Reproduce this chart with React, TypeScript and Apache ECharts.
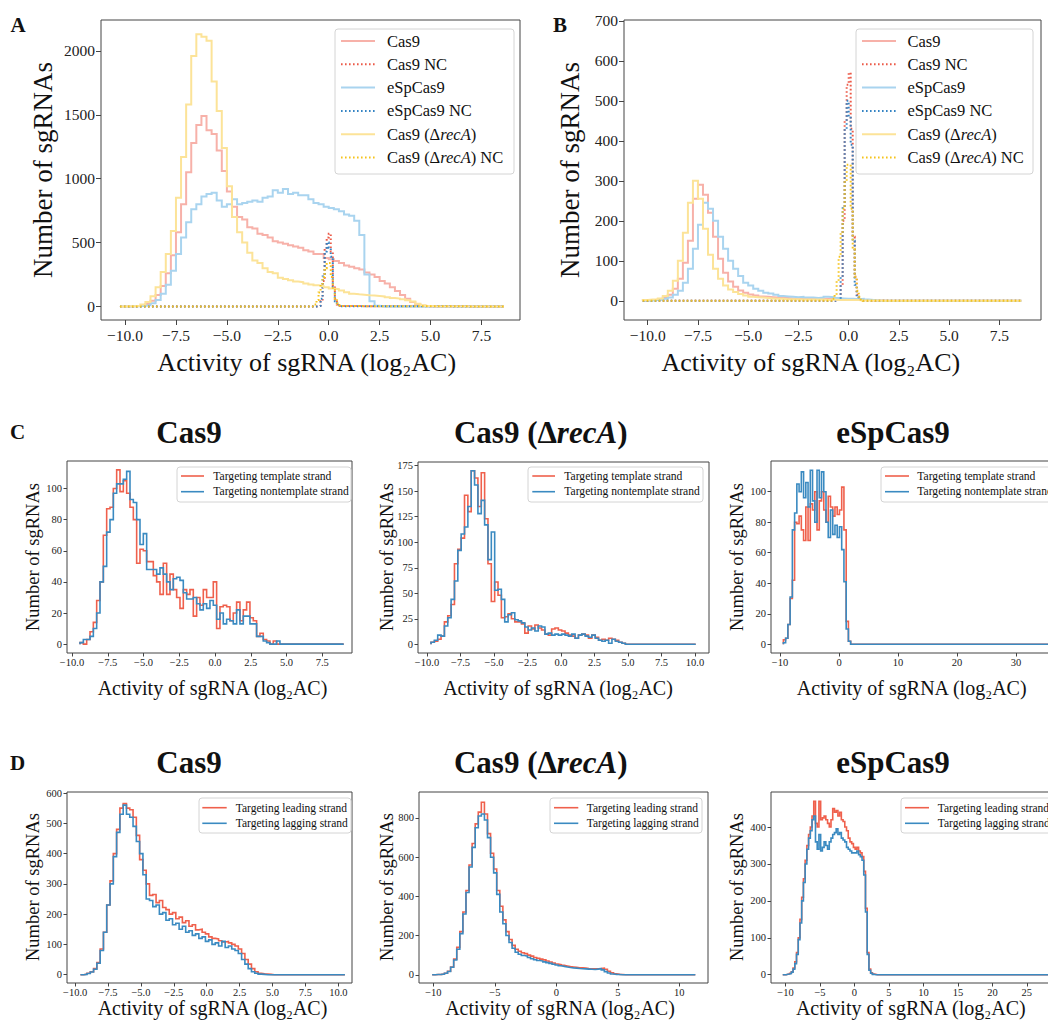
import React, { useEffect, useRef } from 'react';
import * as echarts from 'echarts';

const FONT = '"Liberation Serif", "Times New Roman", Times, serif';

// ---------- Panel A (bins of 0.25 from -10.25) ----------
const AB_START = -10.25;
const AB_W = 0.25;
const AB_LO = -10.25;
const AB_HI = 8.6;
const A_cas9 = [0, 0, 1, 3, 8, 20, 45, 90, 160, 260, 400, 580, 800, 1050, 1280, 1420, 1490, 1380, 1350, 1220, 1060, 900, 780, 700, 680, 620, 610, 570, 560, 540, 510, 500, 490, 480, 470, 460, 440, 430, 410, 410, 380, 370, 355, 340, 320, 310, 300, 290, 265, 250, 230, 200, 180, 150, 120, 90, 60, 35, 15, 5, 2, 0];
const A_esp = [0, 0, 1, 2, 5, 10, 25, 50, 100, 170, 280, 410, 540, 660, 760, 800, 860, 880, 890, 830, 780, 800, 840, 800, 810, 820, 830, 820, 850, 860, 910, 890, 920, 880, 890, 870, 870, 840, 810, 800, 780, 770, 760, 745, 720, 710, 670, 560, 250, 40, 5, 0];
const A_recA = [0, 1, 2, 5, 15, 35, 80, 150, 270, 410, 590, 850, 1170, 1580, 1960, 2130, 2110, 2080, 1760, 1530, 1240, 940, 700, 580, 500, 420, 360, 340, 300, 270, 260, 225, 215, 205, 195, 190, 180, 172, 165, 160, 150, 140, 135, 125, 112, 100, 95, 92, 88, 86, 82, 78, 72, 66, 62, 56, 48, 38, 22, 10, 4, 1];

// ---------- Panel B ----------
const B_cas9 = [1, 2, 2, 4, 8, 15, 30, 55, 95, 150, 255, 290, 265, 220, 160, 105, 70, 48, 35, 26, 20, 16, 13, 11, 10, 9, 8, 7, 7, 6, 6, 6, 5, 5, 5, 5, 5, 5, 4, 4, 3, 3, 3, 2, 2, 1, 1, 1, 0];
const B_esp = [1, 1, 2, 3, 5, 8, 15, 25, 45, 80, 130, 190, 245, 230, 200, 160, 130, 100, 80, 62, 45, 38, 30, 25, 20, 18, 15, 12, 11, 10, 9, 10, 8, 8, 7, 8, 10, 9, 7, 6, 5, 5, 4, 5, 3, 2, 1, 0];
const B_recA = [2, 3, 4, 6, 12, 25, 50, 100, 170, 245, 300, 255, 180, 115, 80, 55, 38, 28, 22, 17, 13, 10, 9, 8, 7, 6, 5, 5, 4, 4, 4, 3, 3, 3, 3, 3, 2, 3, 2, 2, 2, 2, 2, 1, 1, 1, 1, 0];

// ---------- Negative controls (bins of 0.1) ----------
const NC_W = 0.1;
const NC_cas9_start = -0.6;
const NC_cas9 = [0, 5, 40, 200, 450, 540, 570, 430, 160, 60, 15, 3];
const NC_esp_start = -0.6;
const NC_esp = [0, 5, 60, 235, 430, 500, 460, 390, 150, 40, 10, 2];
const NC_recA_start = -0.8;
const NC_recA = [5, 15, 50, 110, 170, 230, 300, 340, 340, 230, 130, 60, 25, 10, 3];

// ---------- Panel C ----------
const C1_start = -9.44, C1_w = 0.233, C1_hi = 9.0;
const C1_template = [1, 0, 3, 8, 14, 28, 40, 70, 87, 88, 100, 112, 98, 105, 97, 88, 80, 52, 61, 60, 53, 53, 44, 40, 32, 52, 32, 45, 35, 30, 23, 35, 32, 35, 18, 30, 25, 35, 30, 30, 40, 10, 24, 25, 24, 15, 20, 27, 15, 22, 27, 17, 15, 5, 7, 3, 2, 0, 2, 0];
const C1_nontemplate = [1, 3, 3, 5, 10, 20, 40, 50, 72, 80, 97, 103, 103, 106, 111, 93, 91, 80, 64, 71, 48, 48, 48, 45, 49, 45, 40, 35, 42, 43, 41, 33, 29, 29, 30, 26, 22, 26, 23, 28, 25, 16, 20, 13, 16, 15, 13, 22, 13, 18, 18, 13, 13, 5, 5, 2, 1, 0, 0, 2];
const C2_start = -9.7, C2_w = 0.25, C2_hi = 10.05;
const C2_template = [2, 3, 5, 8, 22, 28, 39, 79, 93, 104, 146, 130, 170, 163, 135, 168, 123, 79, 42, 61, 48, 26, 27, 30, 25, 22, 22, 20, 11, 18, 15, 19, 16, 14, 10, 9, 15, 16, 14, 13, 11, 9, 8, 6, 9, 10, 9, 6, 9, 7, 4, 5, 4, 6, 5, 4, 2, 1, 0];
const C2_nontemplate = [2, 4, 9, 8, 18, 26, 44, 62, 92, 108, 115, 135, 170, 156, 128, 141, 117, 83, 110, 53, 54, 44, 22, 29, 31, 24, 23, 21, 17, 14, 16, 13, 18, 17, 10, 11, 9, 10, 9, 10, 9, 8, 10, 6, 9, 10, 8, 7, 9, 6, 4, 3, 4, 1, 5, 3, 2, 1, 0];
const C3_start = -9.43, C3_w = 0.38, C3_hi = 40;
const C3_template = [3, 4, 13, 30, 42, 80, 79, 84, 75, 68, 90, 68, 92, 88, 100, 75, 94, 100, 88, 80, 97, 90, 84, 90, 85, 88, 103, 75, 15, 2, 0];
const C3_nontemplate = [1, 4, 13, 31, 75, 86, 105, 100, 113, 96, 106, 90, 114, 94, 80, 114, 96, 113, 100, 80, 70, 88, 72, 78, 70, 77, 62, 41, 10, 2, 0];

// ---------- Panel D ----------
const D1_start = -9.6, D1_w = 0.25, D1_hi = 10.5;
const D1_leading = [0, 2, 5, 10, 20, 40, 85, 140, 230, 310, 400, 480, 550, 565, 550, 545, 520, 460, 380, 345, 300, 262, 265, 238, 245, 222, 215, 200, 205, 185, 190, 172, 178, 160, 165, 148, 150, 140, 135, 125, 120, 118, 112, 108, 110, 105, 100, 95, 85, 70, 50, 35, 20, 10, 5, 3, 2, 1, 0];
const D1_lagging = [0, 1, 4, 9, 18, 38, 80, 140, 230, 300, 390, 470, 530, 560, 530, 520, 490, 440, 400, 330, 250, 245, 225, 230, 200, 205, 180, 185, 165, 170, 150, 160, 140, 145, 130, 135, 120, 125, 110, 115, 100, 105, 95, 110, 90, 95, 85, 80, 70, 50, 35, 20, 10, 5, 2, 1, 0];
const D2_start = -10.1, D2_w = 0.25, D2_hi = 11.3;
const D2_leading = [0, 1, 2, 4, 8, 18, 40, 80, 140, 220, 320, 430, 560, 670, 770, 830, 880, 820, 720, 620, 540, 430, 350, 280, 220, 180, 150, 130, 120, 112, 108, 100, 95, 88, 84, 80, 76, 70, 65, 60, 55, 52, 48, 45, 42, 40, 38, 36, 35, 34, 32, 31, 30, 30, 32, 34, 28, 18, 10, 5, 2, 1, 0];
const D2_lagging = [0, 1, 2, 4, 8, 17, 38, 75, 130, 210, 310, 420, 550, 650, 750, 810, 820, 790, 700, 600, 520, 410, 320, 260, 200, 165, 135, 115, 105, 98, 95, 88, 82, 77, 73, 70, 66, 62, 58, 54, 50, 46, 43, 40, 37, 35, 34, 32, 31, 30, 29, 28, 27, 29, 31, 25, 16, 9, 4, 2, 1, 0];
const D3_start = -10.4, D3_w = 0.25, D3_hi = 33;
const D3_leading = [0, 0, 1, 2, 4, 8, 18, 35, 60, 100, 150, 210, 260, 310, 350, 380, 400, 430, 470, 410, 400, 470, 420, 425, 430, 420, 410, 400, 420, 450, 440, 445, 430, 440, 420, 415, 400, 390, 370, 360, 355, 345, 340, 345, 335, 330, 320, 280, 180, 60, 15, 5, 2, 1, 0];
const D3_lagging = [0, 0, 1, 2, 3, 7, 15, 30, 55, 95, 140, 200, 250, 300, 340, 370, 390, 420, 430, 360, 340, 380, 335, 345, 360, 350, 340, 360, 370, 380, 385, 395, 380, 385, 370, 365, 360, 345, 340, 335, 330, 330, 330, 335, 325, 320, 310, 270, 170, 55, 12, 4, 1, 0];

// ---------- Tick labels ----------
const TICKS_AB_X = [-10, -7.5, -5, -2.5, 0, 2.5, 5, 7.5];
const TICKS_A_Y = [0, 500, 1000, 1500, 2000];
const TICKS_B_Y = [0, 100, 200, 300, 400, 500, 600, 700];
const TICKS_C1_X = [-10, -7.5, -5, -2.5, 0, 2.5, 5, 7.5];
const TICKS_C2_X = [-10, -7.5, -5, -2.5, 0, 2.5, 5, 7.5, 10];
const TICKS_C3_X = [-10, 0, 10, 20, 30];
const TICKS_C1_Y = [0, 20, 40, 60, 80, 100];
const TICKS_C2_Y = [0, 25, 50, 75, 100, 125, 150, 175];
const TICKS_D1_X = [-10, -7.5, -5, -2.5, 0, 2.5, 5, 7.5, 10];
const TICKS_D2_X = [-10, -5, 0, 5, 10];
const TICKS_D3_X = [-10, -5, 0, 5, 10, 15, 20, 25];
const TICKS_D1_Y = [0, 100, 200, 300, 400, 500, 600];
const TICKS_D2_Y = [0, 200, 400, 600, 800];
const TICKS_D3_Y = [0, 100, 200, 300, 400];

// colours
const LIGHT_RED = '#F7B1A9';
const NC_RED = '#EC5A48';
const LIGHT_BLUE = '#A9D4EF';
const NC_BLUE = '#3584C4';
const LIGHT_YELLOW = '#FCE398';
const NC_GOLD = '#F5C31C';
const RED = '#EF604C';
const BLUE = '#3A8AC1';
const FRAME = '#444';
const TEXT = '#111';

function stepPoints(start: number, w: number, vals: number[], lo: number, hi: number) {
  const pts: number[][] = [];
  if (lo < start) pts.push([lo, 0]);
  pts.push([start, 0]);
  vals.forEach((v, i) => {
    pts.push([start + i * w, v]);
    pts.push([start + (i + 1) * w, v]);
  });
  const end = start + vals.length * w;
  pts.push([end, 0]);
  if (hi > end) pts.push([hi, 0]);
  return pts;
}

function series(gi: number, start: number, w: number, vals: number[], lo: number, hi: number, color: string, width: number, dotted = false) {
  return {
    type: 'line',
    xAxisIndex: gi,
    yAxisIndex: gi,
    data: stepPoints(start, w, vals, lo, hi),
    symbol: 'none',
    showSymbol: false,
    silent: true,
    clip: true,
    lineStyle: { color, width, type: dotted ? [1.6, 2.4] : 'solid', cap: 'butt', join: 'miter' },
    z: 3,
  };
}

const fmt = (dec: number) => (v: number) => {
  const s = Math.abs(v).toFixed(dec);
  return v < 0 ? '\u2212' + s : s;
};

function axis(gi: number, min: number, max: number, ticks: number[], dec: number, fontSize: number, tickLen: number, margin: number) {
  return {
    type: 'value',
    gridIndex: gi,
    min,
    max,
    axisLine: { show: false, onZero: false },
    axisTick: { show: true, customValues: ticks, length: tickLen, lineStyle: { color: FRAME, width: 1 } },
    axisLabel: { show: true, customValues: ticks, formatter: fmt(dec), fontSize, fontFamily: FONT, color: '#222', margin },
    splitLine: { show: false },
  };
}

const GRIDS = [
  { left: 101, top: 20, width: 419, height: 300 },
  { left: 624, top: 20, width: 417, height: 300 },
  { left: 67, top: 461, width: 285, height: 192 },
  { left: 418, top: 462, width: 291, height: 191 },
  { left: 771, top: 461, width: 320, height: 192 },
  { left: 67, top: 792, width: 285, height: 191 },
  { left: 419, top: 792, width: 289, height: 191 },
  { left: 771, top: 792, width: 320, height: 191 },
];

function txt(x: number, y: number, text: string, fontSize: number, opts: any = {}) {
  return {
    type: 'text',
    x,
    y,
    z: 60,
    rotation: opts.rotation || 0,
    silent: true,
    style: {
      text,
      fontSize,
      fontFamily: FONT,
      fontWeight: opts.bold ? 'bold' : 'normal',
      fill: TEXT,
      align: opts.align || 'center',
      verticalAlign: 'middle',
      rich: opts.rich,
    },
  };
}

function richRecA(fontSize: number, bold: boolean) {
  const base = { fontSize, fontFamily: FONT, fontWeight: bold ? 'bold' : 'normal', fill: TEXT };
  return { n: base, i: { ...base, fontStyle: 'italic' } };
}

type LegRow = { text: string; color: string; dotted?: boolean; rich?: boolean };

function legend(x: number, y: number, w: number, h: number, rows: LegRow[], y0: number, dy: number, lx1: number, lx2: number, tx: number, fontSize: number, lw: number) {
  const els: any[] = [
    {
      type: 'rect',
      z: 50,
      silent: true,
      shape: { x, y, width: w, height: h, r: 3 },
      style: { fill: 'rgba(255,255,255,0.85)', stroke: '#d4d4d4', lineWidth: 1 },
    },
  ];
  rows.forEach((r, i) => {
    const yy = y0 + i * dy;
    els.push({
      type: 'line',
      z: 55,
      silent: true,
      shape: { x1: lx1, y1: yy, x2: lx2, y2: yy },
      style: { stroke: r.color, lineWidth: lw, lineDash: r.dotted ? [1.6, 2.4] : null },
    });
    els.push(txt(tx, yy, r.text, fontSize, { align: 'left', rich: r.rich ? richRecA(fontSize, false) : undefined }));
  });
  return els;
}

const AB_ROWS: LegRow[] = [
  { text: 'Cas9', color: LIGHT_RED },
  { text: 'Cas9 NC', color: NC_RED, dotted: true },
  { text: 'eSpCas9', color: LIGHT_BLUE },
  { text: 'eSpCas9 NC', color: NC_BLUE, dotted: true },
  { text: '{n|Cas9 (\u0394}{i|recA}{n|)}', color: LIGHT_YELLOW, rich: true },
  { text: '{n|Cas9 (\u0394}{i|recA}{n|) NC}', color: NC_GOLD, dotted: true, rich: true },
];
const C_ROWS: LegRow[] = [
  { text: 'Targeting template strand', color: RED },
  { text: 'Targeting nontemplate strand', color: BLUE },
];
const D_ROWS: LegRow[] = [
  { text: 'Targeting leading strand', color: RED },
  { text: 'Targeting lagging strand', color: BLUE },
];

const XLABEL = 'Activity of sgRNA (log\u2082AC)';
const YLABEL = 'Number of sgRNAs';

function buildOption() {
  const abSeries = (gi: number, cas9: number[], esp: number[], recA: number[]) => [
    series(gi, AB_START, AB_W, cas9, AB_LO, AB_HI, LIGHT_RED, 2),
    series(gi, NC_cas9_start, NC_W, NC_cas9, AB_LO, AB_HI, NC_RED, 2, true),
    series(gi, AB_START, AB_W, esp, AB_LO, AB_HI, LIGHT_BLUE, 2),
    series(gi, NC_esp_start, NC_W, NC_esp, AB_LO, AB_HI, NC_BLUE, 2, true),
    series(gi, AB_START, AB_W, recA, AB_LO, AB_HI, LIGHT_YELLOW, 2),
    series(gi, NC_recA_start, NC_W, NC_recA, AB_LO, AB_HI, NC_GOLD, 2, true),
  ];

  const allSeries = [
    ...abSeries(0, A_cas9, A_esp, A_recA),
    ...abSeries(1, B_cas9, B_esp, B_recA),
    series(2, C1_start, C1_w, C1_template, C1_start, C1_hi, RED, 1.6),
    series(2, C1_start, C1_w, C1_nontemplate, C1_start, C1_hi, BLUE, 1.6),
    series(3, C2_start, C2_w, C2_template, C2_start, C2_hi, RED, 1.6),
    series(3, C2_start, C2_w, C2_nontemplate, C2_start, C2_hi, BLUE, 1.6),
    series(4, C3_start, C3_w, C3_template, C3_start, C3_hi, RED, 1.6),
    series(4, C3_start, C3_w, C3_nontemplate, C3_start, C3_hi, BLUE, 1.6),
    series(5, D1_start, D1_w, D1_leading, D1_start, D1_hi, RED, 1.6),
    series(5, D1_start, D1_w, D1_lagging, D1_start, D1_hi, BLUE, 1.6),
    series(6, D2_start, D2_w, D2_leading, D2_start, D2_hi, RED, 1.6),
    series(6, D2_start, D2_w, D2_lagging, D2_start, D2_hi, BLUE, 1.6),
    series(7, D3_start, D3_w, D3_leading, D3_start, D3_hi, RED, 1.6),
    series(7, D3_start, D3_w, D3_lagging, D3_start, D3_hi, BLUE, 1.6),
  ];

  const xAxes = [
    axis(0, -11.18, 9.39, TICKS_AB_X, 1, 15.5, 5, 7),
    axis(1, -11.18, 9.57, TICKS_AB_X, 1, 15.5, 5, 7),
    axis(2, -10.35, 9.58, TICKS_C1_X, 1, 10.5, 3.5, 4),
    axis(3, -10.67, 11.04, TICKS_C2_X, 1, 10.5, 3.5, 4),
    axis(4, -11.53, 42.7, TICKS_C3_X, 0, 10.5, 3.5, 4),
    axis(5, -10.62, 11.04, TICKS_D1_X, 1, 10.5, 3.5, 4),
    axis(6, -11.17, 12.33, TICKS_D2_X, 0, 10.5, 3.5, 4),
    axis(7, -12.1, 34.3, TICKS_D3_X, 0, 10.5, 3.5, 4),
  ];
  const yAxes = [
    axis(0, -106, 2242, TICKS_A_Y, 0, 15.5, 5, 6),
    axis(1, -48, 702, TICKS_B_Y, 0, 15.5, 5, 6),
    axis(2, -5.7, 117.7, TICKS_C1_Y, 0, 10.5, 3.5, 5),
    axis(3, -8.5, 178.6, TICKS_C2_Y, 0, 10.5, 3.5, 5),
    axis(4, -5.7, 120.1, TICKS_C1_Y, 0, 10.5, 3.5, 5),
    axis(5, -27.4, 603.4, TICKS_D1_Y, 0, 10.5, 3.5, 5),
    axis(6, -42, 932.6, TICKS_D2_Y, 0, 10.5, 3.5, 5),
    axis(7, -22.5, 495, TICKS_D3_Y, 0, 10.5, 3.5, 5),
  ];

  const titleRich = richRecA(31, true);
  const elements: any[] = [
    // panel letters
    txt(18, 25, 'A', 21, { bold: true }),
    txt(560, 25, 'B', 21, { bold: true }),
    txt(17.5, 432, 'C', 21, { bold: true }),
    txt(17.5, 763, 'D', 21, { bold: true }),
    // A / B axis titles
    txt(42.7, 170, YLABEL, 27, { rotation: Math.PI / 2 }),
    txt(306.7, 362, XLABEL, 26),
    txt(570, 170, YLABEL, 27, { rotation: Math.PI / 2 }),
    txt(810.8, 362, XLABEL, 26),
    // C titles
    txt(189, 432, 'Cas9', 31, { bold: true }),
    txt(540.7, 432, '{n|Cas9 (\u0394}{i|recA}{n|)}', 31, { bold: true, rich: titleRich }),
    txt(893, 432, 'eSpCas9', 31, { bold: true }),
    // D titles
    txt(189, 762, 'Cas9', 31, { bold: true }),
    txt(540.7, 762, '{n|Cas9 (\u0394}{i|recA}{n|)}', 31, { bold: true, rich: titleRich }),
    txt(893, 762, 'eSpCas9', 31, { bold: true }),
    // C axis titles
    txt(33, 557, YLABEL, 18.5, { rotation: Math.PI / 2 }),
    txt(212.5, 688, XLABEL, 20),
    txt(386.7, 557, YLABEL, 18.5, { rotation: Math.PI / 2 }),
    txt(558, 688, XLABEL, 20),
    txt(736.7, 557, YLABEL, 18.5, { rotation: Math.PI / 2 }),
    txt(911.7, 688, XLABEL, 20),
    // D axis titles
    txt(33, 887, YLABEL, 18.5, { rotation: Math.PI / 2 }),
    txt(212.5, 1008, XLABEL, 20),
    txt(386.7, 887, YLABEL, 18.5, { rotation: Math.PI / 2 }),
    txt(560, 1008, XLABEL, 20),
    txt(736.7, 887, YLABEL, 18.5, { rotation: Math.PI / 2 }),
    txt(910.8, 1008, XLABEL, 20),
    // legends
    ...legend(335, 29, 179, 145, AB_ROWS, 41, 23.3, 341, 375, 387, 16.5, 2),
    ...legend(856, 29, 177, 145, AB_ROWS, 41, 23.3, 862, 896, 907.5, 16.5, 2),
    ...legend(177, 467, 174, 35, C_ROWS, 476, 15.7, 181, 204, 213.3, 11.6, 1.6),
    ...legend(528, 467, 175, 35, C_ROWS, 476, 15.7, 532.3, 555, 564.3, 11.6, 1.6),
    ...legend(881, 467, 175, 35, C_ROWS, 476, 15.7, 885, 909, 917.3, 11.6, 1.6),
    ...legend(199, 798, 152, 35, D_ROWS, 807.7, 15.6, 202.3, 226.7, 235.7, 11.5, 1.6),
    ...legend(550, 798, 152, 35, D_ROWS, 807.7, 15.6, 554, 578.3, 586.7, 11.5, 1.6),
    ...legend(901, 798, 152, 35, D_ROWS, 807.7, 15.6, 905, 929, 937.7, 11.5, 1.6),
  ];

  return {
    animation: false,
    backgroundColor: '#ffffff',
    textStyle: { fontFamily: FONT },
    grid: GRIDS.map((g) => ({
      ...g,
      show: true,
      borderColor: FRAME,
      borderWidth: 1,
      backgroundColor: 'transparent',
      containLabel: false,
      outerBoundsMode: 'none',
    })),
    xAxis: xAxes,
    yAxis: yAxes,
    series: allSeries,
    graphic: { elements },
  };
}

export default function App() {
  const ref = useRef<HTMLDivElement>(null);
  useEffect(() => {
    if (!ref.current) return;
    const chart = echarts.init(ref.current, undefined, { renderer: 'svg' });
    chart.setOption(buildOption() as any);
    return () => chart.dispose();
  }, []);
  return <div ref={ref} style={{ position: 'absolute', left: 0, top: 0, width: 1048, height: 1028, background: '#fff' }} />;
}
